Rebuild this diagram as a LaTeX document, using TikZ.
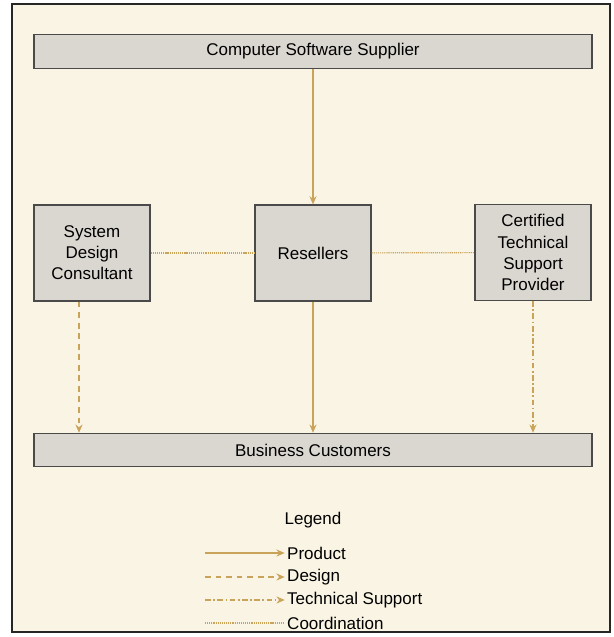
\documentclass[tikz,border=0pt]{standalone}
\usepackage{fontspec}
\setmainfont{Liberation Sans}
\usetikzlibrary{arrows.meta,positioning,calc}
\definecolor{paper}{HTML}{F9F4E3}
\definecolor{boxgray}{HTML}{DAD7D1}
\definecolor{boxline}{HTML}{4A4A4A}
\definecolor{tan}{HTML}{C9A35A}

\begin{document}
\begin{tikzpicture}[x=0.03cm, y=-0.03cm,
    font=\fontsize{14.5}{18}\selectfont,
    party/.style={draw=boxline, line width=1pt, fill=boxgray, align=center, inner sep=0pt},
    wide/.style={party, minimum width=16.74cm, minimum height=1cm},
    small/.style={party, minimum width=3.48cm, minimum height=2.88cm},
    tip/.style={-{Stealth[length=7pt,width=6pt]}},
    product/.style={tan, line width=1.1pt, tip},
    design/.style={tan, line width=1.1pt, dash pattern=on 5pt off 4pt, tip},
    support/.style={tan, line width=1.1pt, dash pattern=on 5pt off 2pt on 1.5pt off 2pt, tip},
    coord/.style={tan, line width=1pt, dash pattern=on 1pt off 0.8pt}]
    \useasboundingbox (0,0) rectangle (614,637);
    \fill[white] (0,0) rectangle (614,637);
    % Frame
    \draw[line width=1.5pt, draw=black!85, fill=paper] (12,4) rectangle (610,632);
    % Parties
    \node[wide] (supplier) at (313,51.5) {Computer Software Supplier};
    \node[small] (sdc) at (92,253) {System\\Design\\Consultant};
    \node[small] (res) at (313,253) {Resellers};
    \node[small] (ctsp) at (533,252.5) {Certified\\Technical\\Support\\Provider};
    \node[wide] (cust) at (313,450) {Business Customers};
    % Links
    \draw[product] (supplier) -- (res);
    \draw[product] (res) -- (cust);
    \draw[design] ([xshift=-0.39cm]sdc.south) -- ([xshift=-0.39cm]sdc.south |- cust.north);
    \draw[support] (ctsp.south) -- (ctsp.south |- cust.north);
    \draw[coord] (sdc) -- (res);
    \draw[coord] (res) -- (ctsp);
    % Legend
    \node (legend) at (313,520) {Legend};
    \foreach \y/\kind/\name in {553/product/Product, 577/design/Design,
        600/support/Technical Support, 623/coord/Coordination} {
        \node[anchor=west, inner sep=0pt] (key-\kind) at (287,\y) {\name};
        \coordinate (from-\kind) at (205,\y);
        \draw[\kind] (from-\kind) -- ([xshift=-2pt]key-\kind.west);
    }
\end{tikzpicture}
\end{document}
